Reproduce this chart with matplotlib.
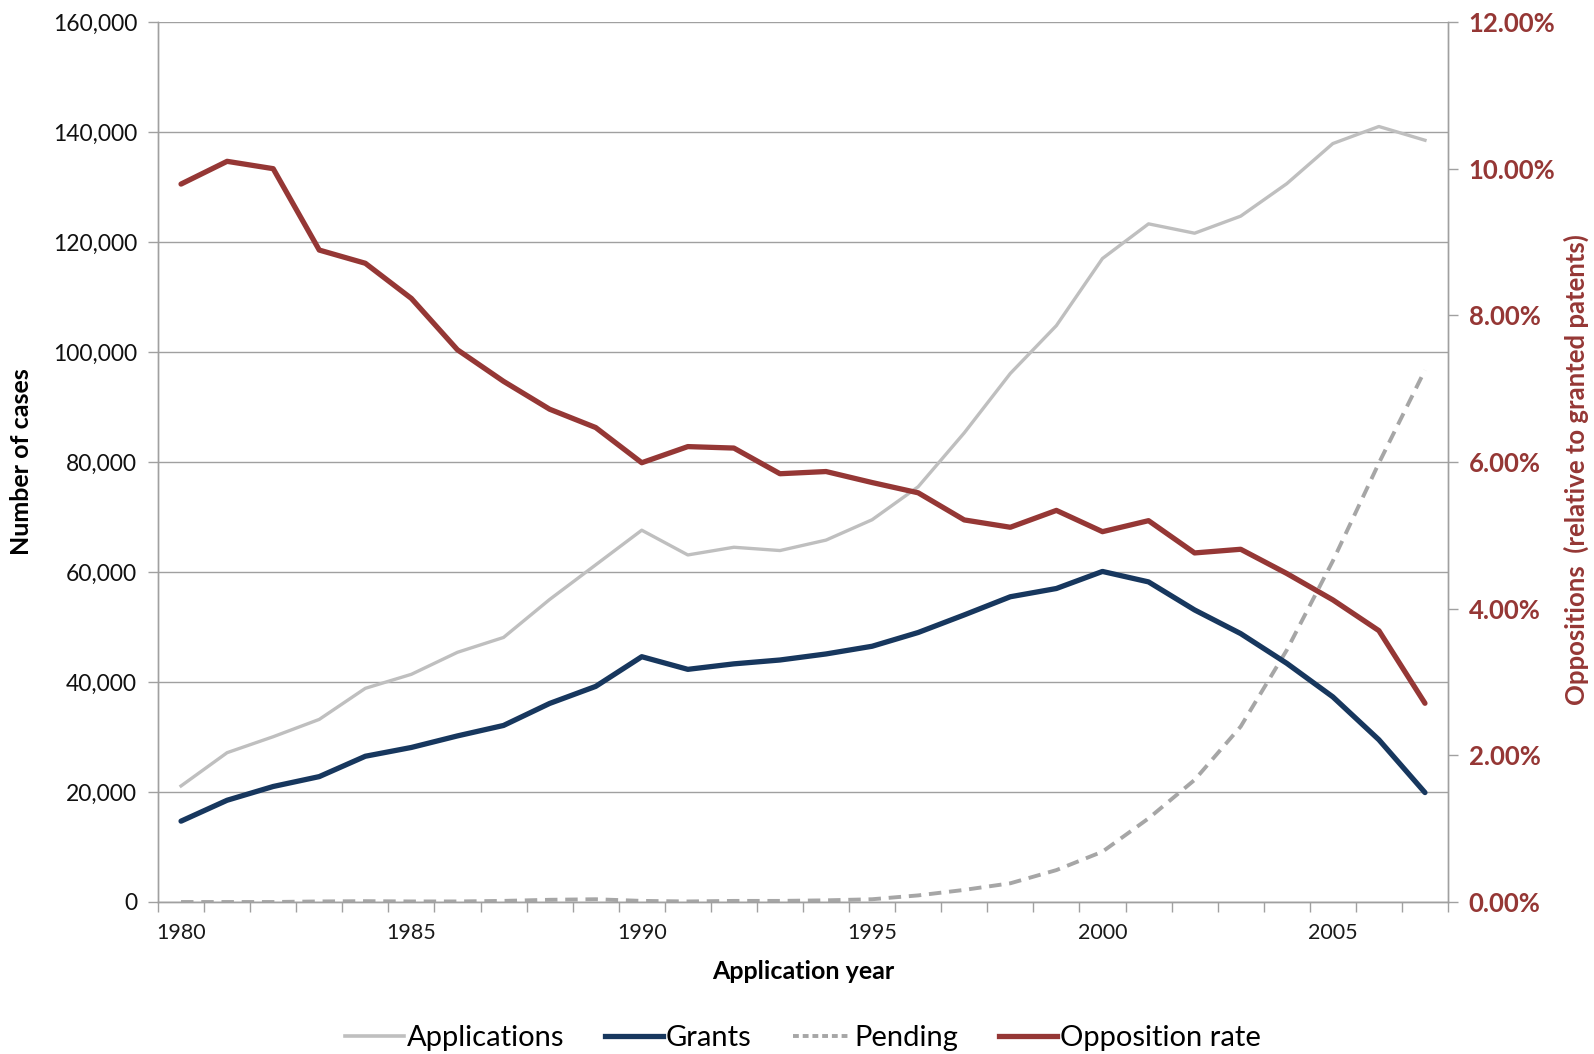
import matplotlib
matplotlib.use("Agg")
import matplotlib.pyplot as plt
from matplotlib.ticker import FuncFormatter, FixedLocator
from matplotlib.lines import Line2D

plt.rcParams['font.family'] = ['Lato', 'DejaVu Sans']

years = list(range(1980, 2008))
applications = [21100, 27150, 30050, 33200, 38850, 41400, 45400, 48100, 55000, 61300,
                67600, 63100, 64500, 63900, 65800, 69500, 75500, 85300, 96100, 104800,
                117000, 123300, 121600, 124700, 130600, 137900, 141000, 138500]
grants = [14700, 18500, 21000, 22800, 26500, 28100, 30200, 32100, 36100, 39200,
          44600, 42300, 43300, 44000, 45100, 46500, 49000, 52200, 55500, 57000,
          60100, 58200, 53100, 48800, 43400, 37300, 29500, 19900]
pending = [0, 0, 0, 100, 150, 100, 100, 200, 400, 500,
           200, 100, 200, 200, 300, 500, 1200, 2200, 3400, 5800,
           9150, 15200, 22200, 31900, 45800, 62000, 79800, 96700]
opposition_rate = [9.79, 10.10, 10.00, 8.89, 8.71, 8.23, 7.53, 7.10, 6.72, 6.47,
                   5.99, 6.21, 6.19, 5.84, 5.87, 5.72, 5.58, 5.21, 5.11, 5.34,
                   5.05, 5.20, 4.76, 4.81, 4.48, 4.12, 3.70, 2.71]

C_APP = '#BFBFBF'
C_GRANT = '#17375E'
C_PEND = '#A6A6A6'
C_RED = '#953735'
C_GRID = '#A0A0A0'

fig = plt.figure(figsize=(15.94, 10.54), dpi=100)
ax = fig.add_axes([158/1594, 1-902/1054, (1448-158)/1594, 880/1054])
ax2 = ax.twinx()

x = list(range(len(years)))
ax.plot(x, applications, color=C_APP, lw=2.4, solid_joinstyle='round', zorder=3)
ax.plot(x, grants, color=C_GRANT, lw=3.8, solid_joinstyle='round', solid_capstyle='round', zorder=4)
ax.plot(x, pending, color=C_PEND, lw=2.8, ls=(0, (3.2, 2.0)), zorder=3)
ax2.plot(x, opposition_rate, color=C_RED, lw=3.8, solid_joinstyle='round', solid_capstyle='round', zorder=5)

ax.set_xlim(-0.5, len(years) - 0.5)
ax.set_ylim(0, 160000)
ax2.set_ylim(0, 12)

ax.set_yticks(range(0, 160001, 20000))
ax.yaxis.set_major_formatter(FuncFormatter(lambda v, p: f"{int(v):,}"))
ax2.set_yticks(range(0, 13, 2))
ax2.yaxis.set_major_formatter(FuncFormatter(lambda v, p: f"{v:.2f}%"))

label_idx = [i for i, y in enumerate(years) if y % 5 == 0]
ax.set_xticks(label_idx)
ax.set_xticklabels([str(years[i]) for i in label_idx])
ax.xaxis.set_minor_locator(FixedLocator([i - 0.5 for i in range(len(years) + 1)]))
ax.tick_params(axis='x', which='major', length=0, pad=15, labelsize=15.5, labelcolor='#1a1a1a')
ax.tick_params(axis='x', which='minor', length=7, color=C_GRID, width=1)
ax.tick_params(axis='y', length=7, color=C_GRID, width=1, labelsize=16.5, pad=8, labelcolor='#111111')
ax2.tick_params(axis='y', length=7, color=C_GRID, width=1, labelsize=18.5, pad=8, labelcolor=C_RED)
for t in ax2.get_yticklabels():
    t.set_fontweight('bold')

ax.grid(axis='y', color=C_GRID, lw=1)
ax.set_axisbelow(True)
for a in (ax, ax2):
    a.spines['top'].set_visible(False)
    for s in ('left', 'right', 'bottom'):
        a.spines[s].set_color(C_GRID)
        a.spines[s].set_linewidth(1)

ax.set_ylabel('Number of cases', fontsize=18, fontweight='bold', labelpad=14)
fig.text(1576/1594, 1-470/1054, 'Oppositions  (relative to granted patents)', rotation=90,
         ha='center', va='center', fontsize=18.5, fontweight='bold', color=C_RED)
ax.set_xlabel('Application year', fontsize=18, fontweight='bold', labelpad=12)

handles = [Line2D([], [], color=C_APP, lw=2.6),
           Line2D([], [], color=C_GRANT, lw=3.8),
           Line2D([], [], color=C_PEND, lw=2.8, ls=(0, (1.5, 1.0))),
           Line2D([], [], color=C_RED, lw=3.8)]
fig.legend(handles, ['Applications', 'Grants', 'Pending', 'Opposition rate'],
           loc='center', bbox_to_anchor=(803/1594, 1-1038/1054), ncol=4, frameon=False,
           fontsize=21, handlelength=2.0, handletextpad=0.1, columnspacing=1.4)

fig.savefig('out.png', dpi=100, facecolor='white')
